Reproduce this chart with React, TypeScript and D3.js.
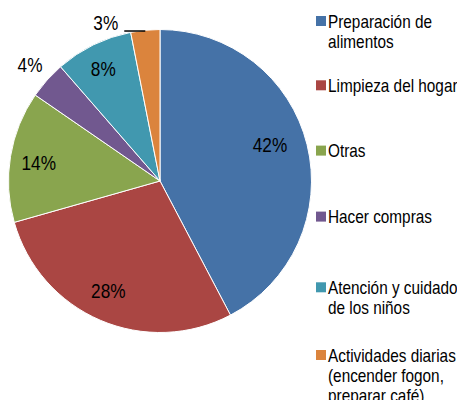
import React from "react";
import * as d3 from "d3";

const categories = [
  "Preparación de alimentos",
  "Limpieza del hogar",
  "Otras",
  "Hacer compras",
  "Atención y cuidado de los niños",
  "Actividades diarias (encender fogon, preparar café)",
];
const legendLines = [
  ["Preparación de", "alimentos"],
  ["Limpieza del hogar"],
  ["Otras"],
  ["Hacer compras"],
  ["Atención y cuidado", "de los niños"],
  ["Actividades diarias", "(encender fogon,", "preparar café)"],
];
const values = [42.3, 28.3, 14, 4, 8.3, 3.1];
const labels = ["42%", "28%", "14%", "4%", "8%", "3%"];
const colors = ["#4572A7", "#AA4643", "#89A54E", "#71588F", "#4198AF", "#DB843D"];

// layout constants
const W = 457;
const H = 400;
const CX = 160;
const CY = 181;
const R = 151.5;
const FONT = "'Liberation Sans', Arial, sans-serif";
const NARROW = 0.82;
const labelOutside = [false, false, false, true, false, true];
const labelNudge: [number, number][] = [
  [-7.7, -7.8],
  [-3.9, -1.6],
  [-1.7, 1.2],
  [0, 0],
  [-3.4, -3.7],
  [-37.3, 14.9],
];
const legendBaselines = [27.7, 92, 157.3, 223.3, 294, 361.7];

export default function App() {
  const pie = d3
    .pie<number>()
    .sort(null)
    .value((d) => d);
  const arcs = pie(values);
  const arc = d3.arc<d3.PieArcDatum<number>>().innerRadius(0).outerRadius(R);

  return (
    <svg
      width={W}
      height={H}
      style={{ position: "absolute", left: 0, top: 0, display: "block" }}
      fontFamily={FONT}
    >
      <rect width={W} height={H} fill="#fff" />
      <g transform={`translate(${CX},${CY})`}>
        {arcs.map((a, i) => (
          <path key={i} d={arc(a) || ""} fill={colors[i]} stroke="#fff" strokeWidth={1} />
        ))}
        {arcs.map((a, i) => {
          const mid = (a.startAngle + a.endAngle) / 2;
          const lr = labelOutside[i] ? R * 1.15 : R * 0.8;
          const x = lr * Math.sin(mid) + labelNudge[i][0];
          const y = -lr * Math.cos(mid) + labelNudge[i][1] + 7.5;
          const elems = [
            <g key={"t" + i} transform={`translate(${x},${y}) scale(${NARROW},1)`}>
              <text x={0} y={0} textAnchor="middle" fontSize={21} fill="#000">
                {labels[i]}
              </text>
            </g>,
          ];
          if (i === 5) {
            const px = R * Math.sin(mid);
            const py = -R * Math.cos(mid) + 0.8;
            elems.push(
              <line
                key={"l" + i}
                x1={x + 18.5}
                x2={px}
                y1={py}
                y2={py}
                stroke="#000"
                strokeWidth={1.5}
              />
            );
          }
          return <g key={i}>{elems}</g>;
        })}
      </g>
      <g>
        {categories.map((c, i) => (
          <g key={c}>
            <rect x={316} y={legendBaselines[i] - 11.7} width={10} height={10} fill={colors[i]} />
            <g transform={`translate(328,${legendBaselines[i]}) scale(${NARROW},1)`}>
              <text x={0} y={0} fontSize={18.7} fill="#000">
                {legendLines[i].map((ln, j) => (
                  <tspan key={j} x={0} dy={j === 0 ? 0 : 20}>
                    {ln}
                  </tspan>
                ))}
              </text>
            </g>
          </g>
        ))}
      </g>
    </svg>
  );
}
